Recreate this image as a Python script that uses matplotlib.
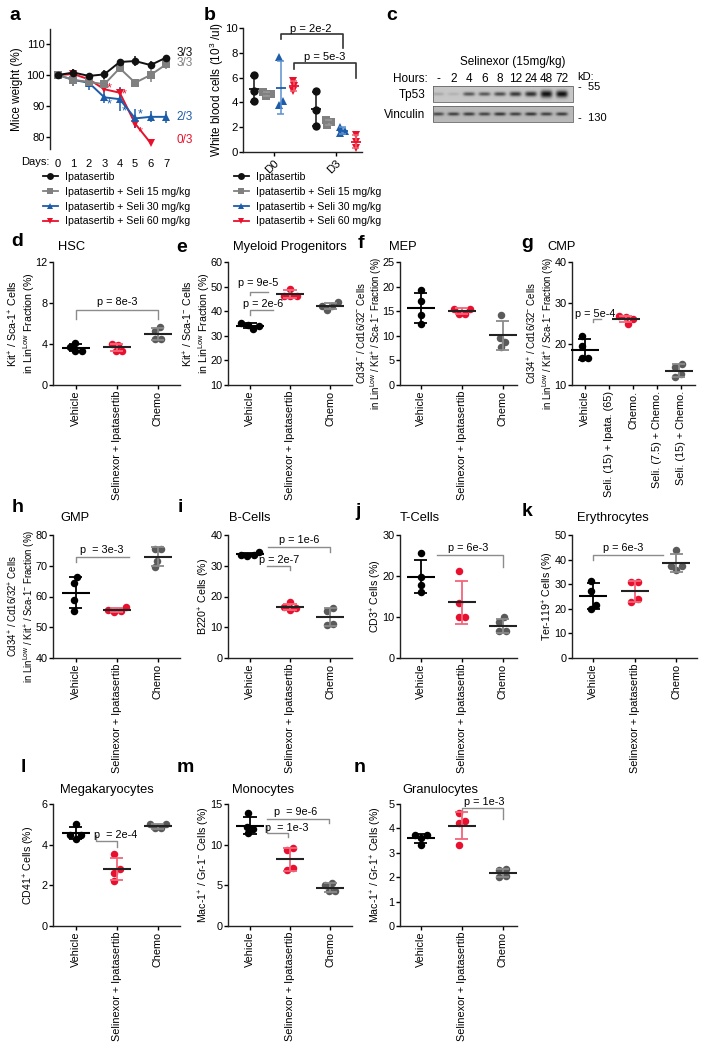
import numpy as np
import matplotlib
matplotlib.use("Agg")
import matplotlib.pyplot as plt
from matplotlib.lines import Line2D

plt.rcParams["font.family"] = ["Liberation Sans", "DejaVu Sans"]
plt.rcParams["mathtext.fontset"] = "custom"
plt.rcParams["mathtext.rm"] = "Liberation Sans"
plt.rcParams["mathtext.default"] = "regular"
plt.rcParams["font.size"] = 7.8
plt.rcParams["axes.linewidth"] = 1.0
plt.rcParams["axes.edgecolor"] = "#222222"
plt.rcParams["xtick.major.size"] = 2.6
plt.rcParams["ytick.major.size"] = 2.6
plt.rcParams["xtick.major.width"] = 1.0
plt.rcParams["ytick.major.width"] = 1.0
plt.rcParams["xtick.major.pad"] = 1.5
plt.rcParams["ytick.major.pad"] = 1.2

# ---------------- data ----------------
# a: mouse weight (%), mean and SEM per day
days = [0, 1, 2, 3, 4, 5, 6, 7]
wt_ipa = [100.0, 100.8, 99.7, 100.2, 104.2, 104.5, 103.2, 105.6]
wt_ipa_err = [0.4, 1.1, 0.6, 1.4, 0.8, 1.5, 1.4, 0.6]
wt_s15 = [100.0, 98.4, 97.8, 97.0, 102.2, 97.5, 100.0, 103.4]
wt_s15_err = [0.4, 1.9, 1.5, 2.4, 0.4, 1.2, 2.2, 1.4]
wt_s30 = [100.0, 98.4, 97.5, 92.8, 92.2, 86.0, 86.5, 86.5]
wt_s30_err = [0.4, 2.0, 2.4, 1.9, 3.8, 3.1, 1.8, 2.0]
wt_s60 = [100.0, 100.3, 98.6, 95.4, 94.3, 84.3, 78.1]
wt_s60_err = [0.4, 1.7, 0.6, 1.0, 1.6, 1.4, 0.3]
star_days = [3, 4, 5]
star_s30_y = [90.6, 88.1, 87.4]
star_s60_y = [95.7, 93.8, 81.6]
survival = ["3/3", "3/3", "2/3", "0/3"]
survival_y = [107.0, 103.8, 86.5, 79.1]
series_labels = ["Ipatasertib", "Ipatasertib + Seli 15 mg/kg",
                 "Ipatasertib + Seli 30 mg/kg", "Ipatasertib + Seli 60 mg/kg"]

# b: white blood cells (10^3/ul)
wbc_days = ["D0", "D3"]
wbc_ipa = [[6.2, 4.9, 4.1], [4.9, 3.4, 2.1]]
wbc_s15 = [[4.8, 4.7, 4.5], [2.6, 2.4, 2.2]]
wbc_s30 = [[7.7, 4.1, 3.8], [2.0, 1.7, 1.5]]
wbc_s60 = [[5.7, 5.3, 4.9], [1.4, 0.8, 0.3]]

# c: western blot band strengths (0-1)
blot_hours = ["-", "2", "4", "6", "8", "12", "24", "48", "72"]
tp53_level = [0.15, 0.1, 0.55, 0.55, 0.6, 0.7, 0.75, 0.9, 0.9]
tp53_thick = [1.6, 1.6, 1.9, 1.9, 2.0, 2.3, 2.5, 3.6, 3.4]
vinc_level = [0.55, 0.6, 0.62, 0.58, 0.65, 0.6, 0.65, 0.6, 0.62]

# d-n: flow cytometry (% cells)
groups3 = ["Vehicle", "Selinexor + Ipatasertib", "Chemo"]
groups_cmp = ["Vehicle", "Seli. (15) + Ipata. (65)", "Chemo.",
              "Seli. (7.5) + Chemo.", "Seli. (15) + Chemo."]
cmp_pos = [0, 1.7, 3.9]
hsc = [[3.75, 3.35, 3.35, 4.10], [3.95, 3.35, 3.35, 4.00], [5.65, 5.30, 4.45, 4.45]]
myeloid = [[34.4, 32.7, 33.8, 35.2], [46.3, 49.2, 46.0, 46.2], [43.7, 42.1, 40.4, 42.1]]
mep = [[19.3, 17.0, 14.2, 12.4], [15.5, 14.5, 14.5, 15.5], [14.3, 9.6, 8.8, 7.7]]
cmp_vals = [[22.0, 19.4, 16.6, 16.6], [26.5, 25.0, 26.2, 26.8], [15.1, 11.9, 12.6, 14.5]]
gmp = [[66.2, 64.3, 58.9, 55.2], [55.6, 55.1, 55.4, 56.7], [69.5, 75.5, 75.5, 71.5]]
bcells = [[33.4, 33.3, 33.5, 34.6], [16.5, 15.6, 16.3, 18.1], [16.2, 15.4, 10.9, 10.8]]
tcells = [[16.2, 19.8, 17.8, 25.5], [21.1, 13.3, 9.9, 9.9], [9.9, 8.8, 6.5, 6.5]]
erythro = [[31.5, 27.4, 21.6, 19.9], [30.7, 30.7, 23.9, 22.9], [43.9, 37.5, 35.9, 37.5]]
megak = [[4.50, 5.00, 4.30, 4.48], [3.52, 2.79, 2.62, 2.21], [5.02, 4.80, 4.80, 5.02]]
mono = [[12.2, 13.9, 11.4, 11.9], [9.6, 9.3, 7.1, 6.9], [5.0, 5.3, 4.3, 4.3]]
granulo = [[3.73, 3.32, 3.60, 3.73], [4.62, 4.32, 4.21, 3.32], [2.30, 2.35, 2.05, 2.00]]

# ---------------- styles ----------------
BLACK, GREY, BLUE, RED = "#111111", "#808080", "#1c5ca8", "#e8102a"
DOT_COLORS = ["#000000", "#e8102e", "#5a5a5a"]
SD_COLORS = ["#000000", "#f2667a", "#8a8a8a"]

W, H = 708, 1050
fig = plt.figure(figsize=(W / 100, H / 100), dpi=100)


def px_axes(left, top, right, bottom):
    return fig.add_axes([left / W, 1 - bottom / H, (right - left) / W, (bottom - top) / H])


def fig_text(x, y, s, **kw):
    fig.text(x / W, 1 - y / H, s, **kw)


def place_ylabel(ax, right_px, yfrac=0.5):
    # put the right edge of the y label right_px pixels left of the axis line
    w = ax.get_position().width * W
    ax.yaxis.set_label_coords(-right_px / w, yfrac)


def swarm_x(ax, xc, vals, diam):
    tr = ax.transData
    inv = tr.inverted()
    steps = np.arange(0.5, 40, 0.5)
    cands = np.concatenate([[0], np.column_stack([steps, -steps]).ravel()])
    placed = []
    offs = np.zeros(len(vals))
    for i in np.argsort(vals, kind="stable"):
        px, py = tr.transform((xc, vals[i]))
        for c in cands:
            if all(np.hypot(px + c - qx, py - qy) >= diam for qx, qy in placed):
                break
        placed.append((px + c, py))
        offs[i] = c
    shift = (offs.max() + offs.min()) / 2
    x0 = tr.transform((xc, 0))[0]
    return [inv.transform((x0 + o - shift, 0))[0] for o in offs]


def mean_sd(ax, xc, vals, mean_color, sd_color, mean_half, cap_half, lw=1.3):
    m = np.mean(vals)
    s = np.std(vals, ddof=1)
    tr = ax.transData
    inv = tr.inverted()
    x0 = tr.transform((xc, 0))[0]
    dm = inv.transform((x0 + mean_half, 0))[0] - xc
    dc = inv.transform((x0 + cap_half, 0))[0] - xc
    kw = dict(color=sd_color, lw=lw, zorder=4, solid_capstyle="butt", clip_on=False)
    ax.plot([xc, xc], [m - s, m + s], **kw)
    ax.plot([xc - dc, xc + dc], [m + s, m + s], **kw)
    ax.plot([xc - dc, xc + dc], [m - s, m - s], **kw)
    ax.plot([xc - dm, xc + dm], [m, m], color=mean_color, lw=lw + 0.2, zorder=5,
            solid_capstyle="butt", clip_on=False)


def bracket(ax, br, color="#8c8c8c", lw=1.0, fs=7.8):
    x0, x1, y, leg0, leg1, text, tx, ty = br
    xs, ys = [x0, x1], [y, y]
    if leg0 is not None:
        xs, ys = [x0] + xs, [leg0] + ys
    if leg1 is not None:
        xs, ys = xs + [x1], ys + [leg1]
    ax.plot(xs, ys, color=color, lw=lw, clip_on=False, zorder=2)
    ax.text(tx, ty, text, ha="center", va="center", fontsize=fs, clip_on=False)


def letter(x, y, s):
    fig_text(x, y, s, fontsize=14, fontweight="bold", ha="center", va="center")


# ---------------- a ----------------
ax = px_axes(50, 28.5, 172, 149.4)
a_series = [
    (wt_s60, wt_s60_err, RED, "v"),
    (wt_s30, wt_s30_err, BLUE, "^"),
    (wt_s15, wt_s15_err, GREY, "s"),
    (wt_ipa, wt_ipa_err, BLACK, "o"),
]
for vals, errs, color, mk in a_series:
    n = len(vals)
    ax.errorbar(days[:n], vals, yerr=errs, color=color, marker=mk, ms=5.5, mew=0,
                lw=1.4, elinewidth=1.1, capsize=2.6, capthick=1.1, clip_on=False)
for d, y in zip(star_days, star_s30_y):
    ax.text(d + 0.3, y, "*", color=BLUE, fontsize=9, ha="center", va="center")
for d, y in zip(star_days, star_s60_y):
    ax.text(d + 0.3, y, "*", color=RED, fontsize=9, ha="center", va="center")
for s, y, c in zip(survival, survival_y, [BLACK, GREY, BLUE, RED]):
    ax.text(7.7, y, s, color=c, fontsize=8.5, ha="left", va="center", clip_on=False)
ax.set_xlim(-0.52, 7.39)
ax.set_ylim(76, 115)
ax.set_yticks([80, 90, 100, 110])
ax.set_xticks(days)
for sp in ["top", "right", "bottom"]:
    ax.spines[sp].set_visible(False)
ax.tick_params(axis="x", length=0, pad=7, labelsize=8.0)
ax.tick_params(axis="y", labelsize=8.0)
ax.set_ylabel("Mice weight (%)", fontsize=8.5)
place_ylabel(ax, 27)
ax.text(-0.58, -0.104, "Days:", transform=ax.get_xaxis_transform(), ha="right",
        va="center", fontsize=8.0)
letter(15, 15, "a")

handles = [Line2D([], [], color=c, marker=m, ms=5, mew=0, lw=1.3)
           for c, m in [(BLACK, "o"), (GREY, "s"), (BLUE, "^"), (RED, "v")]]
leg_kw = dict(loc="upper left", frameon=False, fontsize=7.6, handlelength=1.4,
              handletextpad=0.7, labelspacing=0.45, borderaxespad=0, borderpad=0)
fig.legend(handles, series_labels, bbox_to_anchor=(43 / W, 1 - 172 / H), **leg_kw)

# ---------------- b ----------------
ax = px_axes(243, 28, 362, 152)
ax.set_xlim(-0.5, 1.425)
ax.set_ylim(0, 10)
b_series = [
    (wbc_ipa, BLACK, BLACK, "o", -0.324),
    (wbc_s15, GREY, "#9a9a9a", "s", -0.113),
    (wbc_s30, BLUE, "#5b8fd0", "^", 0.113),
    (wbc_s60, RED, "#f06070", "v", 0.324),
]
for vals2, color, sdc, mk, off in b_series:
    for k, vals in enumerate(vals2):
        xc = k + off
        xs = swarm_x(ax, xc, vals, 5)
        ax.plot(xs, vals, ls="none", marker=mk, color=color, ms=6, mew=0, zorder=3)
        mean_sd(ax, xc, vals, color, sdc, 5, 3.5, lw=1.1)
ax.set_xticks([0, 1])
ax.set_xticklabels(wbc_days, rotation=45, ha="right", rotation_mode="anchor", fontsize=8.2)
ax.set_yticks(range(0, 11, 2))
ax.tick_params(axis="y", labelsize=8.2)
for sp in ["top", "right"]:
    ax.spines[sp].set_visible(False)
ax.set_ylabel("White blood cells (10$^{3}$ /ul)", fontsize=8.5)
place_ylabel(ax, 17)
b_brackets = [
    (0.113, 1.113, 9.5, 9.1, 8.4, "p = 2e-2", 0.6, 9.95),
    (0.324, 1.324, 7.2, 6.7, 6.0, "p = 5e-3", 0.82, 7.65),
]
for br in b_brackets:
    bracket(ax, br, color="#333333", lw=1.2, fs=8)
letter(210, 15, "b")
fig.legend(handles, series_labels, bbox_to_anchor=(234 / W, 1 - 172 / H), **leg_kw)

# ---------------- c ----------------
ax = px_axes(380, 0, 708, 150)
ax.set_xlim(380, 708)
ax.set_ylim(150, 0)
ax.axis("off")
lane_x = [438 + 15.5 * i for i in range(len(blot_hours))]


def blot_strip(levels, thick, x0, x1, y0, y1, bg):
    xx = np.linspace(x0, x1, int((x1 - x0) * 4))
    yy = np.linspace(y0, y1, int((y1 - y0) * 4))
    X, Y = np.meshgrid(xx, yy)
    yc = (y0 + y1) / 2
    img = np.full(X.shape, bg)
    for lx, lev, th in zip(lane_x, levels, thick):
        img -= 0.8 * lev * np.exp(-((X - lx) / 5.8) ** 4) * np.exp(-((Y - yc) / th) ** 2)
    ax.imshow(np.clip(img, 0, 1), cmap="gray", vmin=0, vmax=1, extent=(x0, x1, y1, y0),
              interpolation="bilinear", aspect="auto", zorder=1)
    ax.plot([x0, x1, x1, x0, x0], [y0, y0, y1, y1, y0], color="#666666", lw=0.6, zorder=2)


blot_strip(tp53_level, tp53_thick, 433, 573, 86, 102, 0.78)
blot_strip(vinc_level, [1.7] * len(lane_x), 433, 573, 106, 122, 0.72)
ax.set_xlim(380, 708)
ax.set_ylim(150, 0)
ax.text(513, 62, "Selinexor (15mg/kg)", ha="center", va="center", fontsize=8.5)
ax.text(410, 79, "Hours:", ha="center", va="center", fontsize=8.5)
for x, h in zip(lane_x, blot_hours):
    ax.text(x, 79, h, ha="center", va="center", fontsize=8.5)
ax.text(577, 77, "kD:", ha="left", va="center", fontsize=8)
ax.text(412, 95, "Tp53", ha="center", va="center", fontsize=8.5)
ax.text(405, 115, "Vinculin", ha="center", va="center", fontsize=8.5)
ax.text(578, 87, "-  55", ha="left", va="center", fontsize=8)
ax.text(578, 118, "-  130", ha="left", va="center", fontsize=8)
letter(392, 15, "c")


# ---------------- d-n ----------------
def dot_panel(box, xlim, ylim, yticks, ylabel, groups, data, pos, brackets,
              title, title_xy, let, let_xy, label_fs=7.7, label_y=0.5):
    ax = px_axes(*box)
    ax.set_xlim(*xlim)
    ax.set_ylim(*ylim)
    for k, vals in enumerate(data):
        xc = pos[k]
        xs = swarm_x(ax, xc, vals, 6.5)
        ax.plot(xs, vals, ls="none", marker="o", color=DOT_COLORS[k], ms=5.4, mew=0,
                zorder=3, clip_on=False)
        mean_sd(ax, xc, vals, "#222222" if k else "#000000", SD_COLORS[k], 14, 6.5)
    ax.set_xticks(range(len(groups)))
    ax.set_xticklabels(groups, rotation=90, fontsize=7.8)
    ax.set_yticks(yticks)
    ax.tick_params(axis="y", labelsize=7.8)
    for sp in ["top", "right"]:
        ax.spines[sp].set_visible(False)
    ax.set_ylabel(ylabel, fontsize=label_fs, linespacing=1.1)
    place_ylabel(ax, 16, label_y)
    for br in brackets:
        bracket(ax, br)
    fig_text(title_xy[0], title_xy[1], title, fontsize=9.3, ha="center", va="center")
    letter(let_xy[0], let_xy[1], let)
    return ax


P3 = [0, 1, 2]
COL1 = (53, 180, (-0.56, 2.54))
COL2 = (228, 352, (-0.55, 2.55))
COL3 = (400, 517, (-0.51, 2.35))
COL4 = (572, 697, (-0.51, 2.50))
ROW1, ROW2, ROW3 = (262, 385), (535, 658), (804, 926)


def box(col, row):
    return (col[0], row[0], col[1], row[1])


dot_panel(box(COL1, ROW1), COL1[2], (0, 12), [0, 4, 8, 12],
          "Kit$^{+}$ / Sca-1$^{+}$ Cells\nin Lin$^{Low}$ Fraction (%)",
          groups3, hsc, P3, [(0, 2, 7.3, 6.4, 6.4, "p = 8e-3", 1.0, 8.05)],
          "HSC", (72, 247), "d", (17, 242))

dot_panel(box(COL2, ROW1), COL2[2], (10, 60), [10, 20, 30, 40, 50, 60],
          "Kit$^{+}$ / Sca-1$^{-}$ Cells\nin Lin$^{Low}$ Fraction (%)",
          groups3, myeloid, P3,
          [(0, 0.58, 40.4, 38.6, None, "p = 2e-6", 0.33, 42.8),
           (0, 0.45, 48.0, 46.6, None, "p = 9e-5", 0.2, 51.3)],
          "Myeloid Progenitors", (290, 247), "e", (182, 248))

dot_panel(box(COL3, ROW1), COL3[2], (0, 25), [0, 5, 10, 15, 20, 25],
          "Cd34$^{-}$ / Cd16/32$^{-}$ Cells\nin Lin$^{Low}$ / Kit$^{+}$ / Sca-1$^{-}$ Fraction (%)",
          groups3, mep, P3, [],
          "MEP", (403, 247), "f", (361, 244), label_fs=6.9, label_y=0.42)

dot_panel(box((572, 695), ROW1), (-0.54, 4.58), (10, 40), [10, 20, 30, 40],
          "Cd34$^{+}$ / Cd16/32$^{-}$ Cells\nin Lin$^{Low}$ / Kit$^{+}$ / Sca-1$^{-}$ Fraction (%)",
          groups_cmp, cmp_vals, cmp_pos,
          [(0.35, 0.65, 26.0, 25.3, None, "p = 5e-4", 0.42, 27.3)],
          "CMP", (562, 247), "g", (527, 244), label_fs=6.9, label_y=0.42)

dot_panel(box(COL1, ROW2), COL1[2], (40, 80), [40, 50, 60, 70, 80],
          "Cd34$^{+}$ / Cd16/32$^{+}$ Cells\nin Lin$^{Low}$ / Kit$^{+}$ / Sca-1$^{-}$ Fraction (%)",
          groups3, gmp, P3, [(0, 1.3, 72.9, 71.2, None, "p  = 3e-3", 0.63, 75.2)],
          "GMP", (75, 518), "h", (18, 508), label_fs=6.9, label_y=0.42)

dot_panel(box(COL2, ROW2), COL2[2], (0, 40), [0, 10, 20, 30, 40],
          "B220$^{+}$ Cells (%)", groups3, bcells, P3,
          [(0.43, 1.0, 30.0, None, 28.5, "p = 2e-7", 0.72, 32.0),
           (0.45, 2.0, 36.2, None, 34.5, "p = 1e-6", 1.22, 38.4)],
          "B-Cells", (250, 518), "i", (180, 508))

dot_panel(box(COL3, ROW2), COL3[2], (0, 30), [0, 10, 20, 30],
          "CD3$^{+}$ Cells (%)", groups3, tcells, P3,
          [(0.39, 2.0, 25.1, None, 22.2, "p = 6e-3", 1.15, 26.8)],
          "T-Cells", (420, 518), "j", (358, 512))

dot_panel(box(COL4, ROW2), COL4[2], (0, 50), [0, 10, 20, 30, 40, 50],
          "Ter-119$^{+}$ Cells (%)", groups3, erythro, P3,
          [(0, 1.68, 41.9, 40.0, None, "p = 6e-3", 0.73, 44.7)],
          "Erythrocytes", (613, 518), "k", (527, 512))

dot_panel(box(COL1, ROW3), COL1[2], (0, 6), [0, 2, 4, 6],
          "CD41$^{+}$ Cells (%)", groups3, megak, P3,
          [(0.49, 1.0, 4.16, 4.5, 3.9, "p  = 2e-4", 0.97, 4.48)],
          "Megakaryocytes", (107, 790), "l", (23, 767))

dot_panel(box(COL2, ROW3), COL2[2], (0, 15), [0, 5, 10, 15],
          "Mac-1$^{+}$ / Gr-1$^{-}$ Cells (%)", groups3, mono, P3,
          [(0.43, 1.98, 13.2, None, 12.7, "p  = 9e-6", 1.15, 14.0),
           (0.43, 0.95, 11.4, 12.3, 10.9, "p  = 1e-3", 0.93, 12.0)],
          "Monocytes", (263, 790), "m", (185, 767))

dot_panel(box(COL3, ROW3), COL3[2], (0, 5), [0, 1, 2, 3, 4, 5],
          "Mac-1$^{+}$ / Gr-1$^{+}$ Cells (%)", groups3, granulo, P3,
          [(1.0, 2.0, 4.82, 4.7, 4.4, "p = 1e-3", 1.56, 5.08)],
          "Granulocytes", (440, 790), "n", (360, 767))

fig.savefig("out.png", dpi=100)
